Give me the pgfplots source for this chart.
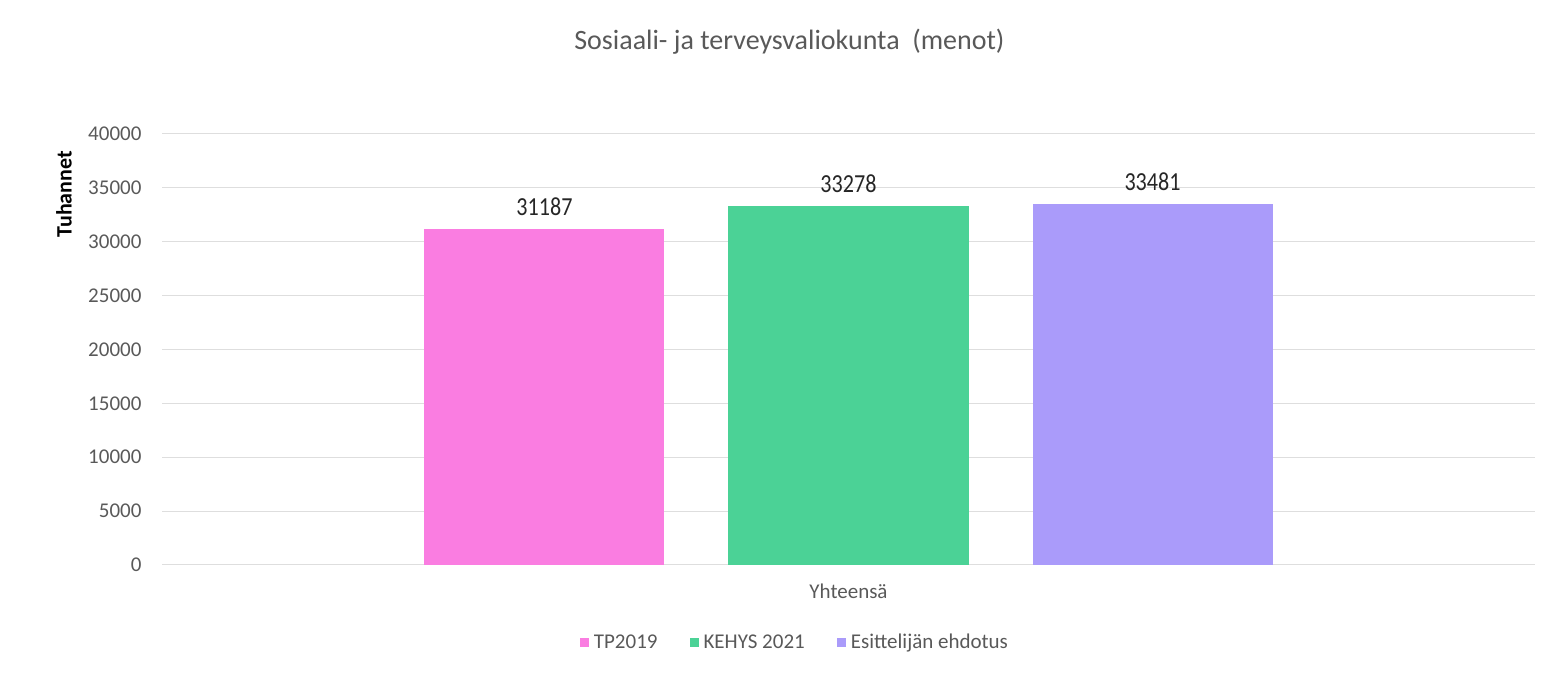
\documentclass[border=0pt]{standalone}
\usepackage{fontspec}
\setmainfont{Carlito}
\newfontfamily\narrowfont[FakeStretch=0.85]{Carlito}
\usepackage{pgfplots}
\pgfplotsset{compat=1.18}
\definecolor{cpink}{RGB}{250,125,225}
\definecolor{cgreen}{RGB}{75,210,150}
\definecolor{cpurple}{RGB}{170,155,250}
\definecolor{txtgray}{RGB}{89,89,89}
\definecolor{gridgray}{RGB}{222,222,222}
\begin{document}
\begin{tikzpicture}
\useasboundingbox (0,0) rectangle (1545pt,674pt);
\begin{axis}[
  at={(162pt,109pt)}, anchor=south west,
  scale only axis, width=1373pt, height=431pt,
  ymin=0, ymax=40000, ytick={0,5000,...,40000},
  scaled y ticks=false,
  /pgf/number format/1000 sep={},
  /pgf/number format/assume math mode=true,
  xmin=-1, xmax=1, xtick={0}, xticklabels={Yhteensä},
  axis line style={draw=none}, major tick length=0pt,
  ymajorgrids, grid style={color=gridgray, line width=1pt},
  ybar=64pt, bar width=240pt,
  ticklabel style={font=\fontsize{21}{21}\selectfont, text=txtgray},
  yticklabel style={xshift=-17pt},
  xticklabel style={yshift=-15pt},
  title={Sosiaali- ja terveysvaliokunta\ \ (menot)},
  title style={at={(0.457,1.2)}, anchor=center, font=\fontsize{28}{28}\selectfont, text=txtgray},
  ylabel={Tuhannet},
  ylabel style={at={(axis description cs:-0.0714,0.86)}, anchor=center, rotate=0, font=\bfseries\fontsize{22}{22}\selectfont, text=black},
  nodes near coords,
  every node near coord/.append style={font=\narrowfont\fontsize{26}{26}\selectfont, text=black!85, yshift=10pt},
  legend style={draw=none, at={(0.461,-0.179)}, anchor=center, legend columns=-1,
    font=\fontsize{21}{21}\selectfont, text=txtgray,
    /tikz/every even column/.append style={column sep=30pt}},
  legend image code/.code={\fill[#1, draw=none] (0pt,-4.5pt) rectangle (9pt,4.5pt);},
  legend cell align=left,
]
\addplot[fill=cpink, draw=none] coordinates {(0,31187)};
\addplot[fill=cgreen, draw=none] coordinates {(0,33278)};
\addplot[fill=cpurple, draw=none] coordinates {(0,33481)};
\legend{\hspace{3pt}TP2019, \hspace{3pt}KEHYS 2021, \hspace{3pt}Esittelijän ehdotus}
\end{axis}
\end{tikzpicture}
\end{document}
